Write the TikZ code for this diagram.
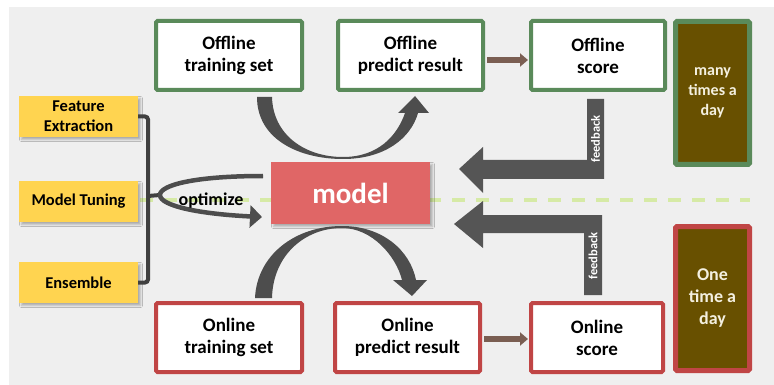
\documentclass[tikz,border=0pt]{standalone}
\usepackage{fontspec}
\setmainfont{Carlito}
\usetikzlibrary{arrows.meta,shadows.blur}

\definecolor{bgc}{HTML}{EFEFEF}
\definecolor{offgreen}{HTML}{5A8A5A}
\definecolor{onred}{HTML}{C04545}
\definecolor{tuneyellow}{HTML}{FFD450}
\definecolor{modelred}{HTML}{E06666}
\definecolor{olivefill}{HTML}{685000}
\definecolor{arcgrey}{HTML}{4D4D4D}
\definecolor{fbgrey}{HTML}{555555}
\definecolor{linkbrown}{HTML}{7A5E52}
\definecolor{dashgreen}{HTML}{D6EAA6}
\definecolor{bracketgrey}{HTML}{404040}
\definecolor{paletext}{HTML}{F4F0E0}

\begin{document}
\begin{tikzpicture}[x=1pt,y=-1pt,
  databox/.style={draw, line width=4pt, fill=white, rounded corners=1.5pt,
    inner sep=0pt, align=center, minimum height=69pt,
    font=\fontsize{19}{22}\selectfont\bfseries},
  offbox/.style={databox, draw=offgreen},
  onbox/.style={databox, draw=onred},
  freqbox/.style={draw, line width=5pt, fill=olivefill, rounded corners=1.5pt,
    inner sep=0pt, align=center, minimum width=74pt, text=paletext},
  tunebox/.style={fill=tuneyellow, inner sep=0pt, minimum width=119pt,
    minimum height=41pt, align=center,
    font=\fontsize{16.5}{20}\selectfont\bfseries,
    blur shadow={shadow xshift=2.5pt, shadow yshift=-2.5pt,
      shadow blur radius=2pt, shadow opacity=28}},
  modelbox/.style={fill=modelred, inner sep=0pt, minimum width=159pt,
    minimum height=62pt, text=white,
    font=\fontsize{29}{31}\selectfont\bfseries,
    blur shadow={shadow xshift=2.5pt, shadow yshift=-2.5pt,
      shadow blur radius=2pt, shadow opacity=28}},
  link/.style={draw=linkbrown, line width=5.5pt,
    -{Triangle[length=8pt,width=13pt]}, shorten <=2pt, shorten >=1pt},
  bracket/.style={draw=bracketgrey, line width=4pt, rounded corners=3pt},
  fbtext/.style={rotate=90, text=white, inner sep=0pt,
    font=\fontsize{12.5}{13}\selectfont\bfseries}
]
\useasboundingbox (0,0) rectangle (774,385);
\fill[bgc] (9,7) rectangle (774,385);

% divider between the offline and online halves
\draw[dashgreen, line width=3.5pt, dash pattern=on 13pt off 11pt] (140,200) -- (750,200);

% data boxes
\node[offbox, minimum width=146pt] (oftrain) at (229,55.5) {Offline\\training set};
\node[offbox, minimum width=145pt] (ofpred) at (410.5,55.5) {Offline\\predict result};
\node[offbox, minimum width=134pt] (ofscore) at (598,55.5) {Offline\\score};
\node[onbox, minimum width=146pt] (ontrain) at (229,337.5) {Online\\training set};
\node[onbox, minimum width=145pt] (onpred) at (407.5,337.5) {Online\\predict result};
\node[onbox, minimum width=132pt] (onscore) at (597,337.5) {Online\\score};

% frequency boxes
\node[freqbox, draw=offgreen, minimum height=143pt,
  font=\fontsize{16}{20}\selectfont\bfseries] (many) at (712.5,93) {many\\times a\\day};
\node[freqbox, draw=onred, minimum height=144pt,
  font=\fontsize{18}{22}\selectfont\bfseries] (once) at (712.5,298.5) {One\\time a\\day};

% tuning steps
\node[tunebox] (fe) at (78.5,116.5) {Feature\\Extraction};
\node[tunebox] (mt) at (78.5,201.5) {Model Tuning};
\node[tunebox] (en) at (78.5,282.5) {Ensemble};

% model
\node[modelbox] (model) at (350.5,193) {model};

% bracket joining the tuning steps
\draw[bracket] (fe.east) -- (148,116.5) -- (148,282.5) -- (en.east);
\coordinate (loopL) at (160,195);
\draw[bracketgrey, line width=4pt] (148,196) -- (loopL);

% optimize loop
\draw[arcgrey, line width=4.5pt, -{Triangle[length=12pt,width=22pt]}]
  (263,176) .. controls (195,176) and (160,185) .. (loopL)
  .. controls (160,206) and (200,214) .. (262,217);
\node[font=\fontsize{18}{20}\selectfont\bfseries, inner sep=0pt] (opt) at (211,201) {optimize};

% offline training feeds the model, model yields the offline prediction
\fill[arcgrey] (257,97) .. controls (257,140) and (300,159) .. (343,159)
  .. controls (385,159) and (411,138) .. (418,113) -- (429,113) -- (415,96)
  -- (398,113) -- (405,113) .. controls (397,136) and (378,157) .. (343,157)
  .. controls (305,157) and (273,135) .. (272,97) -- cycle;

% online training feeds the model, model yields the online prediction
\fill[arcgrey] (255,298) .. controls (257,255) and (295,226) .. (342,226)
  .. controls (382,226) and (410,250) .. (416,280) -- (427,280) -- (412,296)
  -- (393,280) -- (402,280) .. controls (396,256) and (372,228) .. (342,228)
  .. controls (305,228) and (273,255) .. (272,298) -- cycle;

% prediction to score
\draw[link] ([yshift=-4.5pt]ofpred.east) -- ([yshift=-4.5pt]ofscore.west);
\draw[link] ([yshift=-1.5pt]onpred.east) -- ([yshift=-1.5pt]onscore.west);

% feedback from the scores back to the model
\fill[fbgrey] (587,99) -- (604,99) -- (604,179) -- (483,179) -- (483,193)
  -- (459,169) -- (483,147) -- (483,160) -- (587,160) -- cycle;
\fill[fbgrey] (584,295) -- (602,295) -- (602,215) -- (483,215) -- (483,201)
  -- (454,224) -- (483,248) -- (483,233) -- (584,233) -- cycle;
\node[fbtext] (fb1) at (595.5,139) {feedback};
\node[fbtext] (fb2) at (593,256) {feedback};
\end{tikzpicture}
\end{document}
